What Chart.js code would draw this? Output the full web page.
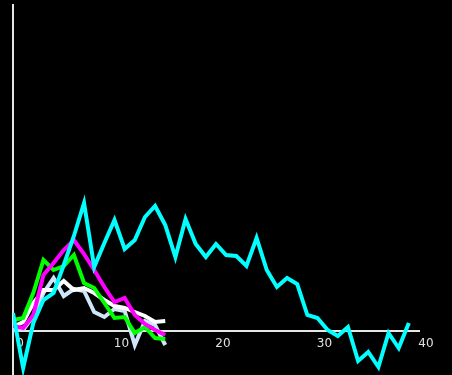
<!DOCTYPE html>
<html>
<head>
<meta charset="utf-8">
<script src="https://cdn.jsdelivr.net/npm/chart.js@4/dist/chart.umd.min.js"></script>
<style>
  html, body { margin: 0; padding: 0; background: #000; }
  #wrap { width: 452px; height: 375px; }
</style>
</head>
<body>
<div id="wrap"><canvas id="lineChart"></canvas></div>
<script>
// x ticks every 10 steps
const tickLabels = ['0', '10', '20', '30', '40'];

const cyanValues = [1.8, -3.7, 0.8, 3.1, 3.8, 6.6, 9.5, 12.8, 6.4, 8.8,
  11.1, 8.2, 9.1, 11.4, 12.5, 10.6, 7.4, 11.2, 8.7, 7.4,
  8.7, 7.6, 7.5, 6.5, 9.3, 6.1, 4.4, 5.3, 4.7, 1.6,
  1.3, 0.1, -0.5, 0.4, -3.0, -2.1, -3.6, -0.2, -1.7, 0.8];
const magentaValues = [0.5, 0.3, 1.6, 5.6, 6.8, 8.1, 9.1, 7.7, 6.1, 4.4, 2.9, 3.3, 1.6, 0.7, 0.1, -0.4];
const greenValues = [1.1, 1.3, 3.8, 7.1, 6.1, 6.5, 7.6, 4.8, 4.3, 2.8, 1.3, 1.4, -0.2, 0.4, -0.7, -0.8];
const whiteValues = [0.4, 0.9, 2.8, 4.1, 4.1, 5.0, 4.1, 4.3, 3.8, 3.1, 2.5, 2.3, 1.9, 1.5, 0.9, 1.0];
const lightBlueValues = [0.1, 0.1, 1.5, 3.8, 5.3, 3.5, 4.2, 4.0, 1.9, 1.4, 2.2, 2.0, -1.4, 1.0, 0.6, -1.4];

function toPoints(values) {
  return values.map(function (v, i) {
    return { x: i, y: v };
  });
}

function makeSet(values, color) {
  return {
    data: toPoints(values),
    borderColor: color,
    backgroundColor: color,
    borderWidth: 4,
    pointRadius: 0,
    tension: 0,
    fill: false,
  };
}

let ctx = document.getElementById('lineChart');
new Chart(ctx, {
  type: 'line',
  data: {
    datasets: [
      makeSet(cyanValues, '#00ffff'),
      makeSet(magentaValues, '#ff00ff'),
      makeSet(greenValues, '#00ff00'),
      makeSet(whiteValues, '#ffffff'),
      makeSet(lightBlueValues, '#cfe6fa'),
    ],
  },
  options: {
    responsive: true,
    maintainAspectRatio: false,
    animation: false,
    layout: {
      padding: { left: 13, right: 33, top: 5, bottom: 0 },
    },
    plugins: {
      legend: { display: false },
      tooltip: { enabled: false },
    },
    scales: {
      x: {
        type: 'linear',
        min: 0,
        max: 40,
        position: { y: 0 },
        grid: { display: false, drawTicks: false },
        border: { display: true, color: '#e6e6e6', width: 2 },
        ticks: {
          stepSize: 10,
          color: '#e0e0e0',
          padding: 6,
          labelOffset: 7,
          font: { family: 'DejaVu Sans', size: 12 },
          callback: function (value) {
            return tickLabels[value / 10];
          },
        },
      },
      y: {
        min: -4.4,
        max: 32.6,
        grid: { display: false, drawTicks: false },
        border: { display: true, color: '#e6e6e6', width: 2 },
        ticks: { display: false },
      },
    },
  },
});
</script>
</body>
</html>
